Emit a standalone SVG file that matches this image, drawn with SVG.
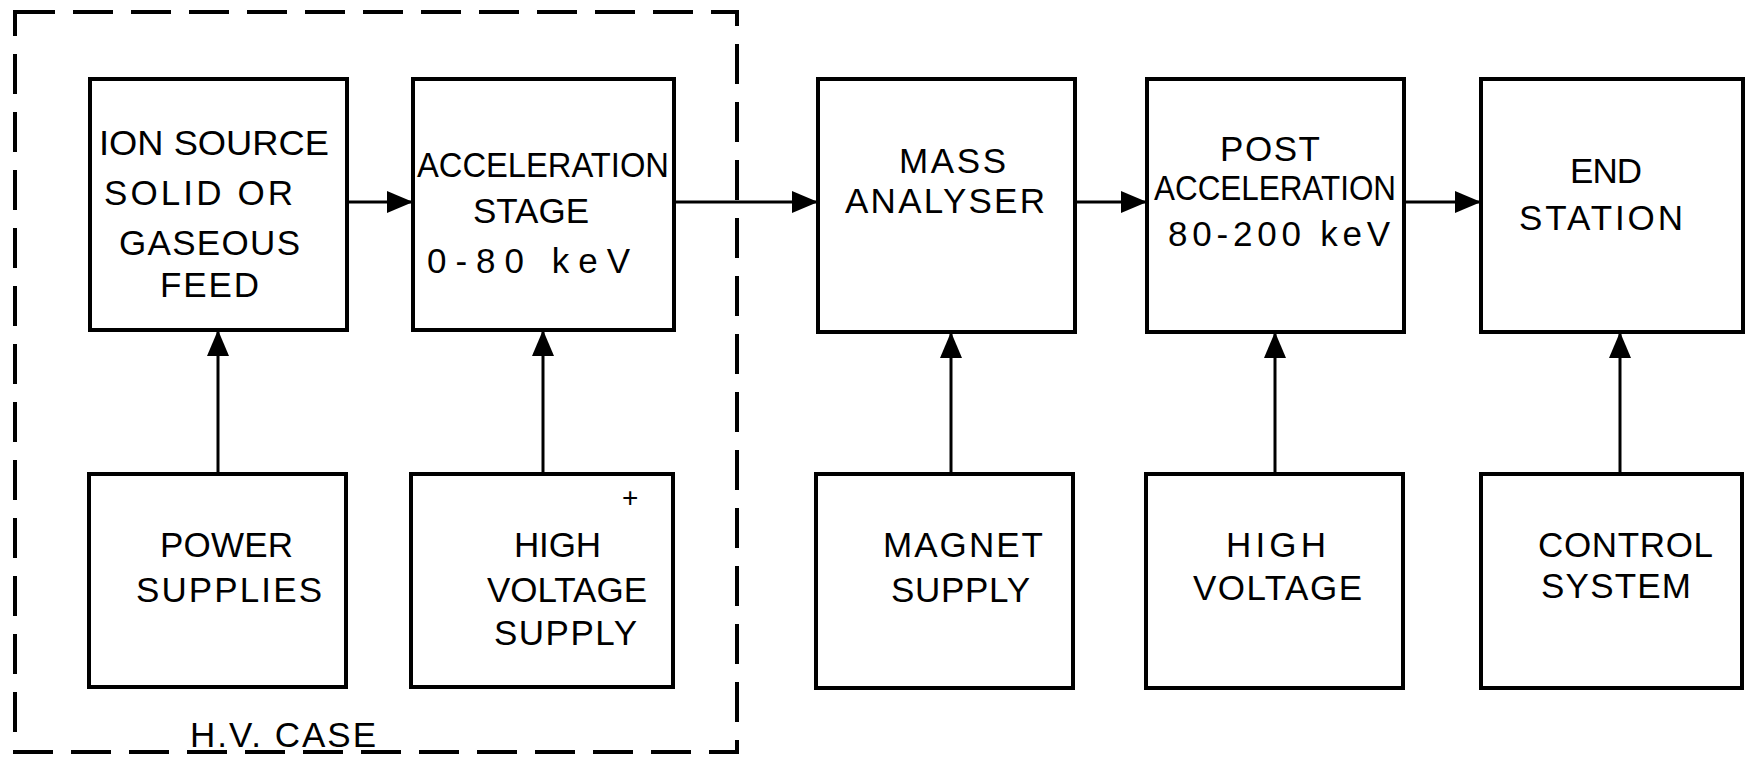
<svg xmlns="http://www.w3.org/2000/svg" width="1748" height="757" viewBox="0 0 1748 757">
<style>
.box{fill:none;stroke:#000;stroke-width:4}
.case{fill:none;stroke:#000;stroke-width:4;stroke-dasharray:40 18}
.con{fill:none;stroke:#000;stroke-width:3;marker-end:url(#ah)}
text{font-family:"Liberation Sans",Arial,sans-serif;font-size:35px;fill:#000}
</style>
<defs>
<marker id="ah" markerUnits="userSpaceOnUse" markerWidth="26" markerHeight="22" refX="26" refY="11" orient="auto">
<path d="M0,0 L26,11 L0,22 Z" fill="#000"/>
</marker>
</defs>
<rect width="1748" height="757" fill="#fff"/>
<g id="hv-case">
<path class="case" d="M15,12 H737 V752 H15 Z"/>
<text x="190" y="747" textLength="186" lengthAdjust="spacing">H.V. CASE</text>
</g>
<g id="ion-source">
<rect class="box" x="90" y="79" width="257" height="251"/>
<text x="99" y="155" textLength="230" lengthAdjust="spacingAndGlyphs">ION SOURCE</text>
<text x="104" y="205" textLength="189" lengthAdjust="spacing">SOLID OR</text>
<text x="119" y="255" textLength="181" lengthAdjust="spacing">GASEOUS</text>
<text x="160" y="297" textLength="99" lengthAdjust="spacing">FEED</text>
</g>
<g id="acceleration-stage">
<rect class="box" x="413" y="79" width="261" height="251"/>
<text x="417" y="177" textLength="252" lengthAdjust="spacingAndGlyphs">ACCELERATION</text>
<text x="473" y="223" textLength="116" lengthAdjust="spacing">STAGE</text>
<text x="427" y="273" textLength="203" lengthAdjust="spacing">0-80 keV</text>
</g>
<g id="mass-analyser">
<rect class="box" x="818" y="79" width="257" height="253"/>
<text x="899" y="173" textLength="107" lengthAdjust="spacing">MASS</text>
<text x="845" y="213" textLength="200" lengthAdjust="spacing">ANALYSER</text>
</g>
<g id="post-acceleration">
<rect class="box" x="1147" y="79" width="257" height="253"/>
<text x="1220" y="161" textLength="100" lengthAdjust="spacing">POST</text>
<text x="1154" y="200" textLength="242" lengthAdjust="spacingAndGlyphs">ACCELERATION</text>
<text x="1168" y="246" textLength="222" lengthAdjust="spacing">80-200 keV</text>
</g>
<g id="end-station">
<rect class="box" x="1481" y="79" width="262" height="253"/>
<text x="1570" y="183" textLength="72" lengthAdjust="spacing">END</text>
<text x="1519" y="230" textLength="164" lengthAdjust="spacing">STATION</text>
</g>
<g id="power-supplies">
<rect class="box" x="89" y="474" width="257" height="213"/>
<text x="160" y="557" textLength="133" lengthAdjust="spacing">POWER</text>
<text x="136" y="602" textLength="186" lengthAdjust="spacing">SUPPLIES</text>
</g>
<g id="hv-supply">
<rect class="box" x="411" y="474" width="262" height="213"/>
<text x="622" y="507" style="font-size:28px">+</text>
<text x="514" y="557" textLength="87" lengthAdjust="spacing">HIGH</text>
<text x="487" y="602" textLength="160" lengthAdjust="spacing">VOLTAGE</text>
<text x="494" y="645" textLength="143" lengthAdjust="spacing">SUPPLY</text>
</g>
<g id="magnet-supply">
<rect class="box" x="816" y="474" width="257" height="214"/>
<text x="883" y="557" textLength="160" lengthAdjust="spacing">MAGNET</text>
<text x="891" y="602" textLength="139" lengthAdjust="spacing">SUPPLY</text>
</g>
<g id="high-voltage">
<rect class="box" x="1146" y="474" width="257" height="214"/>
<text x="1226" y="557" textLength="100" lengthAdjust="spacing">HIGH</text>
<text x="1193" y="600" textLength="169" lengthAdjust="spacing">VOLTAGE</text>
</g>
<g id="control-system">
<rect class="box" x="1481" y="474" width="261" height="214"/>
<text x="1538" y="557" textLength="175" lengthAdjust="spacing">CONTROL</text>
<text x="1541" y="598" textLength="150" lengthAdjust="spacing">SYSTEM</text>
</g>
<g id="connectors">
<line class="con" x1="347" y1="202" x2="413" y2="202"/>
<line class="con" x1="674" y1="202" x2="818" y2="202"/>
<line class="con" x1="1075" y1="202" x2="1147" y2="202"/>
<line class="con" x1="1404" y1="202" x2="1481" y2="202"/>
<line class="con" x1="218" y1="474" x2="218" y2="330"/>
<line class="con" x1="543" y1="474" x2="543" y2="330"/>
<line class="con" x1="951" y1="474" x2="951" y2="332"/>
<line class="con" x1="1275" y1="474" x2="1275" y2="332"/>
<line class="con" x1="1620" y1="474" x2="1620" y2="332"/>
</g>
</svg>
